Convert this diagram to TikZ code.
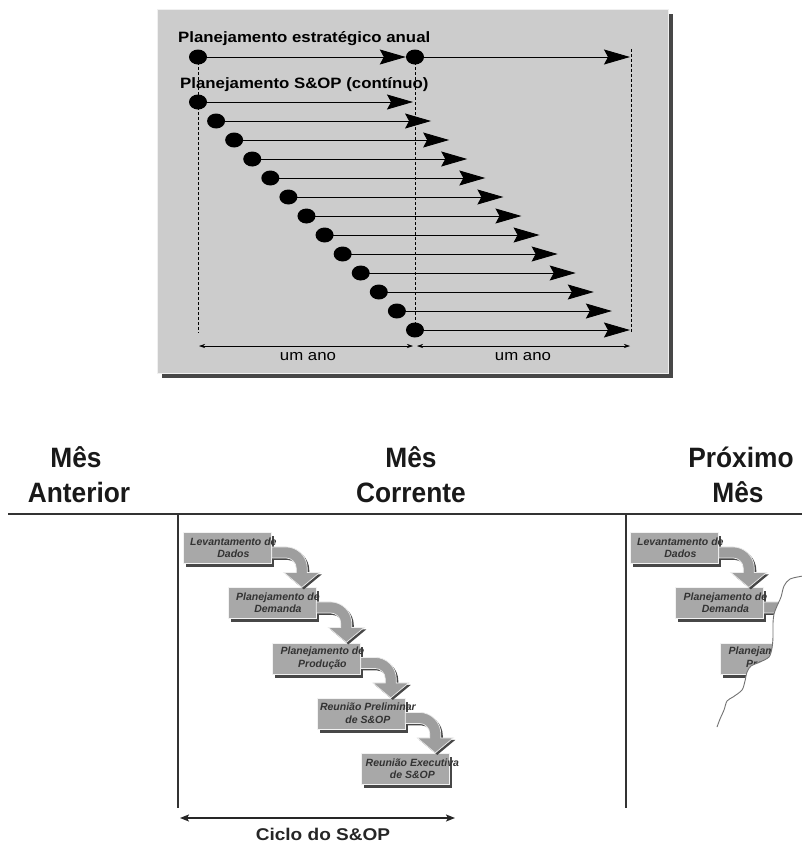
\documentclass[tikz,border=0pt]{standalone}
\usepackage{fontspec}
\setmainfont{Liberation Sans}
\newfontfamily\panelfont[FakeStretch=1.12]{Liberation Sans}
\newfontfamily\headfont[FakeStretch=0.94]{Liberation Sans}
\usetikzlibrary{arrows.meta,shapes.geometric,shadows}
\definecolor{panelgray}{gray}{0.8}
\definecolor{boxgray}{gray}{0.66}
\definecolor{shadowgray}{gray}{0.28}
\definecolor{rulegray}{gray}{0.2}
\definecolor{arrowgray}{gray}{0.62}

\begin{document}
\begin{tikzpicture}[x=1pt,y=-1pt,
  dot/.style={ellipse, fill=black, minimum width=18pt, minimum height=15pt, inner sep=0pt},
  bigarrow/.style={line width=0.9pt, -{Stealth[length=26pt,width=15pt,inset=4pt]}},
  guide/.style={line width=0.9pt, dash pattern=on 3pt off 2pt},
  dimarrow/.style={line width=0.6pt, {Stealth[length=6pt,width=4pt]}-{Stealth[length=6pt,width=4pt]}},
  paneltitle/.style={font=\panelfont\bfseries\fontsize{15}{18}\selectfont, inner sep=0pt, anchor=base west},
  yearlabel/.style={font=\panelfont\fontsize{15}{18}\selectfont, inner sep=0pt},
  header/.style={font=\headfont\bfseries\fontsize{28}{30}\selectfont, text=black!90, inner sep=0pt, anchor=base},
  rule/.style={draw=rulegray, line width=2.2pt},
  divider/.style={draw=rulegray, line width=1.8pt},
  stepbox/.style={rectangle, anchor=north west, minimum width=88pt, minimum height=31pt,
    inner sep=0pt, fill=boxgray, draw=white!85!boxgray, line width=0.8pt,
    general shadow={fill=shadowgray, shadow xshift=3pt, shadow yshift=-4pt}},
  steptext/.style={inner sep=0pt, align=center, text=black!80,
    font=\bfseries\itshape\fontsize{10.5}{12.5}\selectfont},
  flowarrow/.pic={
    \fill[shadowgray, shift={(2,2)}] (0,-5.5) -- (14,-5.5) .. controls (25.9,-5.5) and (35.5,4.1) .. (35.5,16)
      -- (35.5,20) -- (48,20) -- (30,35) -- (12,20) -- (24.5,20) -- (24.5,16)
      .. controls (24.5,10.2) and (19.8,5.5) .. (14,5.5) -- (0,5.5) -- cycle;
    \filldraw[fill=arrowgray, draw=white!80!arrowgray, line width=0.7pt] (0,-5.5) -- (14,-5.5) .. controls (25.9,-5.5) and (35.5,4.1) .. (35.5,16)
      -- (35.5,20) -- (48,20) -- (30,35) -- (12,20) -- (24.5,20) -- (24.5,16)
      .. controls (24.5,10.2) and (19.8,5.5) .. (14,5.5) -- (0,5.5) -- cycle;
  }
]
\useasboundingbox (0,0) rectangle (802,844);
\fill[white] (0,0) rectangle (802,844);

% ---------- upper panel: annual vs. rolling planning ----------
\fill[shadowgray] (162,14) rectangle (673,378);
\filldraw[fill=panelgray, draw=white!70!panelgray, line width=0.8pt] (157,9) rectangle (668,373);

\node[paneltitle] (annualtitle) at (178,42) {Planejamento estratégico anual};
\node[paneltitle] (soptitle) at (180,88) {Planejamento S\&OP (contínuo)};

% annual planning row
\coordinate (aend) at (630,57);
\node[dot] (a0) at (198,57) {};
\node[dot] (a1) at (415,57) {};
\draw[bigarrow] (a0) -- (a1);
\draw[bigarrow] (a1) -- (aend);

% rolling S&OP rows
\foreach \k in {0,...,12}{
  \coordinate (t\k) at ({413+18.08*\k},{102+19*\k});
  \draw[bigarrow] ({198+18.08*\k},{102+19*\k}) -- (t\k);
  \node[dot] (s\k) at ({198+18.08*\k},{102+19*\k}) {};
}

% year guides
\coordinate (g1top) at (198,57);  \coordinate (g1bot) at (198,333);
\coordinate (g2top) at (415,57);  \coordinate (g2bot) at (415,333);
\coordinate (g3top) at (631,49);  \coordinate (g3bot) at (631,333);
\draw[guide] (g1top) -- (g1bot);
\draw[guide] (g2top) -- (g2bot);
\draw[guide] (g3top) -- (g3bot);

\coordinate (d1l) at (199,346); \coordinate (d1r) at (413,346);
\coordinate (d2l) at (417,346); \coordinate (d2r) at (630,346);
\draw[dimarrow] (d1l) -- (d1r);
\draw[dimarrow] (d2l) -- (d2r);
\node[yearlabel] (year1) at (308,357) {um ano};
\node[yearlabel] (year2) at (523,357) {um ano};

% ---------- lower part: monthly S&OP cycle ----------
\node[header] (prevA) at (76,467) {Mês};
\node[header] (prevB) at (79,502) {Anterior};
\node[header] (curA) at (411,467) {Mês};
\node[header] (curB) at (411,502) {Corrente};
\node[header] (nextA) at (741,467) {Próximo};
\node[header] (nextB) at (738,502) {Mês};

\coordinate (hl) at (8,514);   \coordinate (hr) at (802,514);
\coordinate (v1t) at (178,514); \coordinate (v1b) at (178,808);
\coordinate (v2t) at (626,514); \coordinate (v2b) at (626,808);
\draw[rule] (hl) -- (hr);
\draw[divider] (v1t) -- (v1b);
\draw[divider] (v2t) -- (v2b);

% current month
\node[stepbox] (c1) at (183,532)   {};
\node[stepbox] (c2) at (227.5,587) {};
\node[stepbox] (c3) at (272,642.5) {};
\node[stepbox] (c4) at (316.5,697.5) {};
\node[stepbox] (c5) at (361,753)   {};
\foreach \b in {c1,c2,c3,c4}{
  \pic at ([yshift=-4.5pt]\b.east) {flowarrow};
}
\node[steptext] (c1t) at ([xshift=6pt]c1.center) {Levantamento de\\Dados};
\node[steptext] (c2t) at ([xshift=6pt]c2.center) {Planejamento de\\Demanda};
\node[steptext] (c3t) at ([xshift=6pt]c3.center) {Planejamento de\\Produção};
\node[steptext] (c4t) at ([xshift=7pt]c4.center) {Reunião Preliminar\\de S\&OP};
\node[steptext] (c5t) at ([xshift=7pt]c5.center) {Reunião Executiva\\de S\&OP};

% next month
\node[stepbox] (n1) at (630,532)   {};
\node[stepbox] (n2) at (675,587)   {};
\node[stepbox] (n3) at (720,642.5) {};
\foreach \b in {n1,n2,n3}{
  \pic at ([yshift=-4.5pt]\b.east) {flowarrow};
}
\node[steptext] (n1t) at ([xshift=6pt]n1.center) {Levantamento de\\Dados};
\node[steptext] (n2t) at ([xshift=6pt]n2.center) {Planejamento de\\Demanda};
\node[steptext] (n3t) at ([xshift=6pt]n3.center) {Planejamento de\\Produção};

% torn edge hiding the rest of next month
\fill[white] plot[smooth] coordinates {(803,576) (790,579) (784,586) (781,597) (777,606) (774,614)
  (773,623) (773,637) (772,648) (769,657) (760,662) (751,666) (747,672) (745,681) (742,690)
  (733,697) (727,701) (724,710) (720,719) (717,727)} -- (715,800) -- (810,800) -- (810,570) -- cycle;
\draw[black!55, line width=0.9pt] plot[smooth] coordinates {(803,576) (790,579) (784,586) (781,597) (777,606) (774,614)
  (773,623) (773,637) (772,648) (769,657) (760,662) (751,666) (747,672) (745,681) (742,690)
  (733,697) (727,701) (724,710) (720,719) (717,727)};

% cycle span
\coordinate (cyl) at (180,818); \coordinate (cyr) at (455,818);
\draw[line width=1.6pt, black!85, {Stealth[length=9pt,width=7pt,inset=2pt]}-{Stealth[length=9pt,width=7pt,inset=2pt]}] (cyl) -- (cyr);
\node[font=\panelfont\bfseries\fontsize{17}{20}\selectfont, text=black!85, inner sep=0pt] (cycle) at (323,834) {Ciclo do S\&OP};
\end{tikzpicture}
\end{document}
